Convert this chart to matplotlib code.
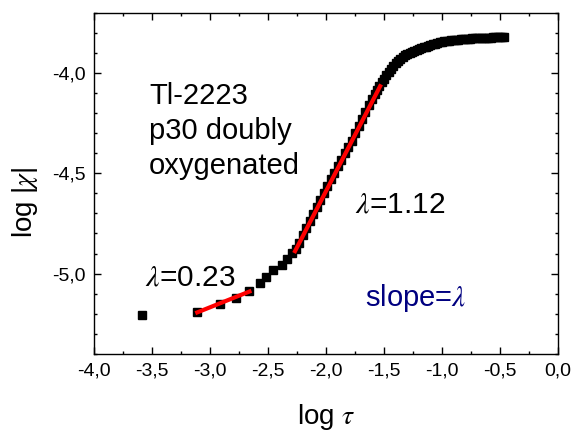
import matplotlib
matplotlib.use("Agg")
import matplotlib.pyplot as plt
from matplotlib.ticker import MultipleLocator, FuncFormatter

plt.rcParams['font.family'] = ['Liberation Sans', 'DejaVu Sans']
plt.rcParams['mathtext.fontset'] = 'stix'

# datos: log tau, log |chi|
log_tau = [-3.59, -3.11, -2.914, -2.778, -2.661, -2.569, -2.52, -2.454, -2.382, -2.339,
           -2.296, -2.26, -2.23, -2.20, -2.17, -2.14, -2.11, -2.08, -2.05, -2.02,
           -1.99, -1.96, -1.93, -1.90, -1.87, -1.84, -1.81, -1.78, -1.75, -1.72,
           -1.69, -1.66, -1.63, -1.60, -1.58, -1.56, -1.54, -1.52, -1.50, -1.48,
           -1.46, -1.44, -1.42, -1.40, -1.38, -1.36, -1.34, -1.32, -1.30, -1.28,
           -1.26, -1.24, -1.22, -1.20, -1.18, -1.16, -1.14, -1.12, -1.10, -1.08,
           -1.06, -1.04, -1.02, -1.00, -0.98, -0.96, -0.94, -0.92, -0.90, -0.88,
           -0.86, -0.84, -0.82, -0.80, -0.78, -0.76, -0.74, -0.72, -0.70, -0.68,
           -0.66, -0.64, -0.62, -0.60, -0.58, -0.56, -0.54, -0.52, -0.50, -0.48,
           -0.47]
log_chi = [-5.205, -5.193, -5.151, -5.119, -5.086, -5.045, -5.017, -4.984, -4.959, -4.929,
           -4.896, -4.875, -4.845, -4.81, -4.775, -4.74, -4.705, -4.67, -4.635, -4.60,
           -4.565, -4.53, -4.50, -4.465, -4.435, -4.40, -4.37, -4.34, -4.30, -4.265,
           -4.23, -4.195, -4.16, -4.13, -4.105, -4.085, -4.065, -4.045, -4.03, -4.01,
           -3.995, -3.98, -3.965, -3.952, -3.94, -3.93, -3.92, -3.912, -3.905, -3.90,
           -3.895, -3.89, -3.886, -3.882, -3.878, -3.874, -3.870, -3.866, -3.862, -3.858,
           -3.855, -3.852, -3.849, -3.846, -3.844, -3.842, -3.840, -3.838, -3.837, -3.836,
           -3.835, -3.834, -3.833, -3.832, -3.831, -3.830, -3.829, -3.828, -3.828, -3.827,
           -3.827, -3.826, -3.826, -3.825, -3.825, -3.824, -3.824, -3.824, -3.823, -3.823,
           -3.822]

# ajustes lineales (pendiente = lambda)
fit1_x = [-3.11, -2.66]
fit1_y = [-5.193, -5.089]
fit2_x = [-2.267, -1.534]
fit2_y = [-4.888, -4.067]

fig, ax = plt.subplots(figsize=(5.73, 4.32), dpi=100)
fig.subplots_adjust(left=0.164, right=0.974, top=0.971, bottom=0.1806)

ax.plot(log_tau, log_chi, 's', color='black', markersize=5.8, linestyle='none')
ax.plot(fit1_x, fit1_y, color='red', linewidth=3)
ax.plot(fit2_x, fit2_y, color='red', linewidth=3)

ax.set_xlim(-4.0, 0.0)
ax.set_ylim(-5.4, -3.7)
ax.xaxis.set_major_locator(MultipleLocator(0.5))
ax.xaxis.set_minor_locator(MultipleLocator(0.25))
ax.yaxis.set_major_locator(MultipleLocator(0.5))
ax.yaxis.set_minor_locator(MultipleLocator(0.1))
coma = FuncFormatter(lambda v, pos: f"{v:.1f}".replace('.', ','))
ax.xaxis.set_major_formatter(coma)
ax.yaxis.set_major_formatter(coma)
ax.tick_params(which='both', direction='in', top=True, right=True, width=1)
ax.tick_params(which='major', length=4.8, labelsize=14, pad=6)
ax.tick_params(which='minor', length=2.4)
for s in ax.spines.values():
    s.set_linewidth(1.0)

ax.set_xlabel(r"log $\tau$", fontsize=20)
ax.set_ylabel(r"log |$\chi$|", fontsize=20)
ax.xaxis.set_label_coords(0.5, -0.186)
ax.xaxis.label.set_va('center')
ax.yaxis.set_label_coords(-0.149, 0.445)
ax.yaxis.label.set_va('center')
ax.yaxis.label.set_ha('center')

ax.text(0.1185, 0.797, "Tl-2223\np30 doubly\noxygenated", transform=ax.transAxes,
        fontsize=21, va='top', ha='left', linespacing=1.33)
ax.text(-3.56, -5.058, r"$\lambda$=0.23", fontsize=21.5, va='baseline')
ax.text(-1.75, -4.697, r"$\lambda$=1.12", fontsize=21.5, va='baseline')
ax.text(-1.664, -5.162, r"slope=$\lambda$", fontsize=21, va='baseline', color='#000080')

plt.savefig('out.png')
plt.close()
